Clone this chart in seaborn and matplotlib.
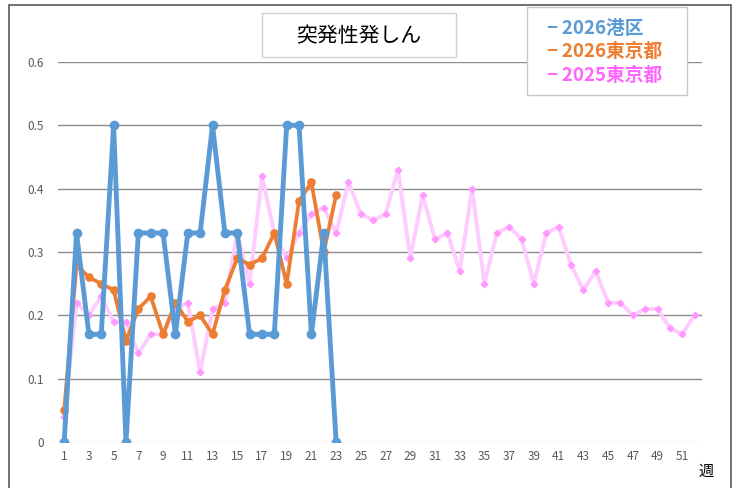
import numpy as np
import pandas as pd
import matplotlib
matplotlib.use("Agg")
import matplotlib.pyplot as plt
import seaborn as sns
from matplotlib.patches import Rectangle

# --------------------------------------------------
# Data
# --------------------------------------------------
weeks_2026 = list(range(1, 24))
minato_2026 = [0, 0.33, 0.17, 0.17, 0.5, 0, 0.33, 0.33, 0.33, 0.17, 0.33, 0.33,
               0.5, 0.33, 0.33, 0.17, 0.17, 0.17, 0.5, 0.5, 0.17, 0.33, 0]
tokyo_2026 = [0.05, 0.28, 0.26, 0.25, 0.24, 0.16, 0.21, 0.23, 0.17, 0.22, 0.19, 0.20,
              0.17, 0.24, 0.29, 0.28, 0.29, 0.33, 0.25, 0.38, 0.41, 0.30, 0.39]

weeks_2025 = list(range(1, 53))
tokyo_2025 = [0.04, 0.22, 0.20, 0.23, 0.19, 0.19, 0.14, 0.17, 0.17, 0.21, 0.22, 0.11,
              0.21, 0.22, 0.33, 0.25, 0.42, 0.33, 0.29, 0.33, 0.36, 0.37, 0.33, 0.41,
              0.36, 0.35, 0.36, 0.43, 0.29, 0.39, 0.32, 0.33, 0.27, 0.40, 0.25, 0.33,
              0.34, 0.32, 0.25, 0.33, 0.34, 0.28, 0.24, 0.27, 0.22, 0.22, 0.20, 0.21,
              0.21, 0.18, 0.17, 0.20]

series_names = ["2026港区", "2026東京都", "2025東京都"]
title_text = "突発性発しん"
x_label = "週"

df_minato = pd.DataFrame({"week": weeks_2026, "value": minato_2026})
df_tokyo26 = pd.DataFrame({"week": weeks_2026, "value": tokyo_2026})
df_tokyo25 = pd.DataFrame({"week": weeks_2025, "value": tokyo_2025})

# --------------------------------------------------
# Style
# --------------------------------------------------
sns.set_style("white")
plt.rcParams["font.family"] = ["Noto Sans CJK JP", "DejaVu Sans"]

c_blue = "#5B9BD5"
c_orange = "#ED7D31"
c_pink_line = "#FFCCFF"
c_pink_mark = "#FF99FF"

fig = plt.figure(figsize=(7.42, 4.88), dpi=100)
ax = fig.add_axes([58 / 742, 1 - 442 / 488, (702 - 58) / 742, (442 - 62) / 488])

# pink (bottom), orange, blue (top)
sns.lineplot(data=df_tokyo25, x="week", y="value", ax=ax, color=c_pink_line,
             linewidth=2.8, marker="D", markersize=3.5, markerfacecolor=c_pink_mark,
             markeredgecolor=c_pink_mark, zorder=3)
sns.lineplot(data=df_tokyo26, x="week", y="value", ax=ax, color=c_orange,
             linewidth=2.7, marker="o", markersize=6.2, markeredgewidth=0, zorder=4)
sns.lineplot(data=df_minato, x="week", y="value", ax=ax, color=c_blue,
             linewidth=3.5, marker="o", markersize=7, markeredgewidth=0, zorder=5)

ax.set_xlim(0.5, 52.6)
ax.set_ylim(0, 0.6)
ax.set_xticks(range(1, 53, 2))
ax.set_yticks([0, 0.1, 0.2, 0.3, 0.4, 0.5, 0.6])
ax.set_yticklabels(["0", "0.1", "0.2", "0.3", "0.4", "0.5", "0.6"])
ax.tick_params(axis="both", length=0, labelsize=8.5, colors="#595959")
ax.tick_params(axis="y", pad=10)
ax.tick_params(axis="x", pad=6)
ax.set_xlabel("")
ax.set_ylabel("")

for y in [0.1, 0.2, 0.3, 0.4, 0.5, 0.6]:
    ax.axhline(y, color="#8C8C8C", linewidth=1.0, zorder=1)
ax.axhline(0, color="#D9D9D9", linewidth=1.0, zorder=1)

for side in ["top", "right", "left", "bottom"]:
    ax.spines[side].set_visible(False)

# outer chart border
fig.patches.append(Rectangle((9 / 742, -0.1), 722 / 742, 1.1 - 5 / 488,
                             transform=fig.transFigure, fill=False,
                             edgecolor="#595959", linewidth=1.2))

# title box
fig.patches.append(Rectangle((262 / 742, 1 - 57 / 488), 194 / 742, 44 / 488,
                             transform=fig.transFigure, facecolor="white",
                             edgecolor="#D0D0D0", linewidth=1.0, zorder=10))
fig.text(359 / 742, 1 - 36 / 488, title_text, ha="center", va="center",
         fontsize=15, color="black", zorder=11)

# legend box
fig.patches.append(Rectangle((527 / 742, 1 - 95 / 488), 160 / 742, 88 / 488,
                             transform=fig.transFigure, facecolor="white",
                             edgecolor="#C8C8C8", linewidth=1.0, zorder=10))
legend_colors = [c_blue, c_orange, "#FF66FF"]
for i, (name, col) in enumerate(zip(series_names, legend_colors)):
    fig.text(547 / 742, 1 - (28 + 23.5 * i) / 488, "−\u2009" + name, ha="left",
             va="center", fontsize=13.5, fontweight="bold", color=col, zorder=11)

fig.text(706 / 742, 1 - 471 / 488, x_label, ha="center", va="center",
         fontsize=11, color="black")

fig.savefig("out.png", dpi=100)
